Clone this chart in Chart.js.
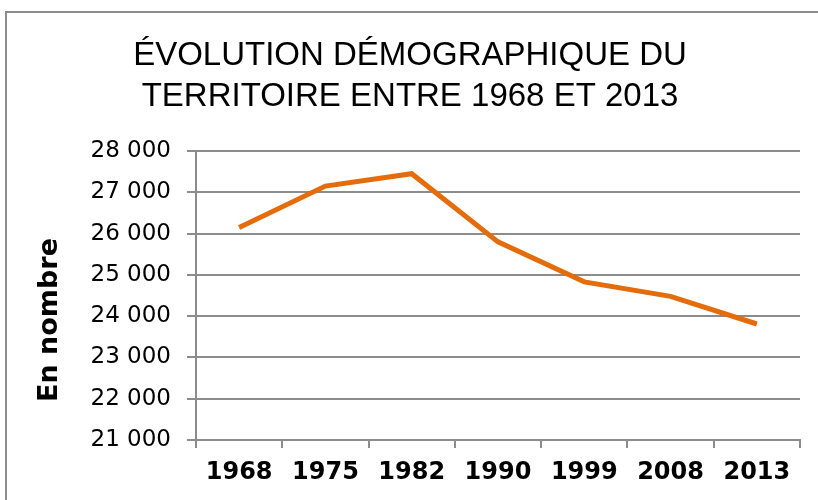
<!DOCTYPE html>
<html>
<head>
<meta charset="utf-8">
<script src="https://cdn.jsdelivr.net/npm/chart.js"></script>
<style>
  html, body { margin: 0; padding: 0; background: #fff; overflow: hidden; }
  #wrap { position: relative; width: 818px; height: 500px; }
  #frame { position: absolute; left: 5px; top: 11px; width: 900px; height: 600px; border: 2px solid #8c8c8c; box-sizing: border-box; }
  canvas { position: absolute; left: 0; top: 0; }
</style>
</head>
<body>
<div id="wrap">
  <div id="frame"></div>
  <canvas id="popChart" width="818" height="500"></canvas>
</div>
<script>
const years = ['1968', '1975', '1982', '1990', '1999', '2008', '2013'];
const population = [26150, 27150, 27450, 25800, 24830, 24480, 23810];
const titleLines = ['ÉVOLUTION DÉMOGRAPHIQUE DU', 'TERRITOIRE ENTRE 1968 ET 2013'];
const yTitle = 'En nombre';

const gridGrey = '#8c8c8c';
const sans = '"DejaVu Sans", Verdana, sans-serif';

// y title sits a bit below the middle of the plot in the original, so draw it by hand
const yTitlePlugin = {
    id: 'yTitle',
    afterDraw(chart) {
        const c = chart.ctx;
        c.save();
        c.translate(57, 320);
        c.rotate(-Math.PI / 2);
        c.font = 'bold 27px ' + sans;
        c.fillStyle = '#000';
        c.textAlign = 'center';
        c.textBaseline = 'alphabetic';
        c.fillText(yTitle, 0, 0);
        c.restore();
    }
};

document.addEventListener('DOMContentLoaded', () => {
    const ctx = document.getElementById('popChart').getContext('2d');

    new Chart(ctx, {
        type: 'line',
        data: {
            labels: years,
            datasets: [{
                label: 'Population',
                data: population,
                borderColor: '#e46c0a',
                borderWidth: 5,
                pointRadius: 0,
                tension: 0,
                fill: false
            }]
        },
        options: {
            responsive: false,
            animation: false,
            layout: { padding: { left: 20, right: 18, top: 0, bottom: 0 } },
            plugins: {
                legend: { display: false },
                tooltip: { enabled: false },
                title: {
                    display: true,
                    text: titleLines,
                    color: '#000',
                    font: { family: '"Liberation Sans", Arial, sans-serif', size: 33, weight: 'normal', lineHeight: 1.258 },
                    padding: { top: 35, bottom: 33 }
                }
            },
            scales: {
                x: {
                    offset: true,
                    grid: {
                        offset: true,
                        drawOnChartArea: false,
                        drawTicks: true,
                        tickLength: 8,
                        color: gridGrey,
                        lineWidth: 2
                    },
                    border: { display: true, color: gridGrey, width: 2 },
                    ticks: {
                        color: '#000',
                        padding: 10,
                        maxRotation: 0,
                        font: { family: sans, size: 24, weight: 'bold' }
                    },
                    afterFit: (scale) => { scale.height = 60; }
                },
                y: {
                    min: 21000,
                    max: 28000,
                    grid: {
                        color: gridGrey,
                        lineWidth: 2,
                        drawTicks: true,
                        tickLength: 9
                    },
                    border: { display: true, color: gridGrey, width: 2 },
                    ticks: {
                        stepSize: 1000,
                        color: '#000',
                        padding: 16,
                        font: { family: sans, size: 23 },
                        callback: (v) => String(v).replace(/\B(?=(\d{3})+(?!\d))/g, ' ')
                    },
                    afterFit: (scale) => { scale.width = 176; }
                }
            }
        },
        plugins: [yTitlePlugin]
    });
});
</script>
</body>
</html>
